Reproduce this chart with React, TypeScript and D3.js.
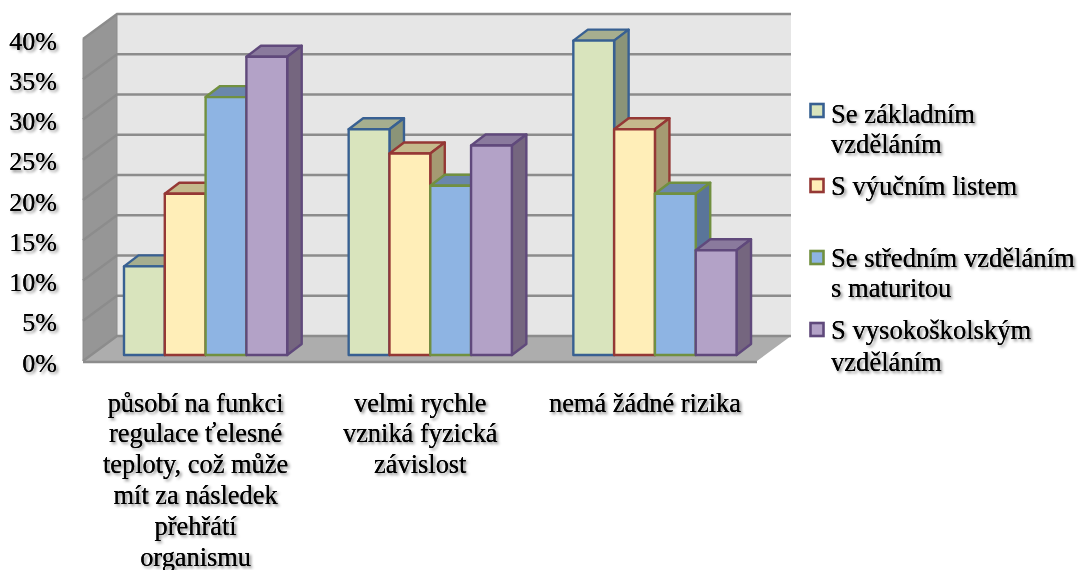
import React from "react";
import * as d3 from "d3";

const categories = ["c1", "c2", "c3"];
const categoryLines = [
  ["působí na funkci", "regulace ťelesné", "teploty, což může", "mít za následek", "přehřátí", "organismu"],
  ["velmi rychle", "vzniká fyzická", "závislost"],
  ["nemá žádné rizika"],
];
const seriesNames = ["s1", "s2", "s3", "s4"];
const valuesS1 = [11, 28, 39];
const valuesS2 = [20, 25, 28];
const valuesS3 = [32, 21, 20];
const valuesS4 = [37, 26, 13];
const seriesValues = [valuesS1, valuesS2, valuesS3, valuesS4];
const ticks = [0, 5, 10, 15, 20, 25, 30, 35, 40];
const fronts = ["#d9e4bd", "#ffeeb8", "#8eb4e3", "#b3a2c7"];
const strokes = ["#386192", "#953735", "#71903f", "#604a7b"];
const sides = ["#8b9478", "#a59a72", "#5a7499", "#75667f"];
const tops = ["#a6ae8f", "#c5b98c", "#6a87ac", "#8a7a9d"];
const legendLines = [
  { i: 0, sw: 111, lines: [["Se základním", 114], ["vzděláním", 144]] },
  { i: 1, sw: 186, lines: [["S výučním listem", 186]] },
  { i: 2, sw: 258, lines: [["Se středním vzděláním", 258], ["s maturitou", 288]] },
  { i: 3, sw: 330, lines: [["S vysokoškolským", 330], ["vzděláním", 362]] },
];

const FONT = "'Liberation Serif', serif";
const wallL = 83, wallR = 757, dx = 34, dy = 25;
const yBack = d3.scaleLinear().domain([0, 40]).range([336, 14]);
const yBar = d3.scaleLinear().domain([0, 40]).range([355, 32.6]);
const x0 = d3.scaleBand<string>().domain(categories).range([wallL, wallR]).paddingInner(0).paddingOuter(0);
const barW = 40.8;
const x1 = (g: number, s: number) => (x0(categories[g]) as number) + 41 + s * barW;
const depthX = 14.5, depthY = 11;
const poly = (p: number[][]) => p.map((q) => q.join(",")).join(" ");

export default function App() {
  return (
    <svg width={1079} height={570} style={{ position: "absolute", left: 0, top: 0, background: "#fff" }}>
      <defs>
        <filter id="sh" x="-10%" y="-10%" width="120%" height="120%">
          <feGaussianBlur in="SourceAlpha" stdDeviation="1.5" result="b" />
          <feOffset in="b" dx="2.2" dy="2.2" result="o" />
          <feFlood floodColor="#000" floodOpacity="0.5" />
          <feComposite in2="o" operator="in" result="s" />
          <feGaussianBlur in="SourceGraphic" stdDeviation="0.3" result="t" />
          <feMerge>
            <feMergeNode in="s" />
            <feMergeNode in="t" />
            <feMergeNode in="t" />
          </feMerge>
        </filter>
        <filter id="soft"><feGaussianBlur stdDeviation="0.5" /></filter>
      </defs>
      <g filter="url(#soft)">
        <rect x={wallL + dx} y={yBack(40)} width={wallR - wallL} height={yBack(0) - yBack(40)} fill="#e6e6e6" />
        <polygon points={poly([[wallL, yBack(40) + dy], [wallL + dx, yBack(40)], [wallL + dx, yBack(0)], [wallL, yBack(0) + dy]])} fill="#969696" stroke="#8c8c8c" />
        <polygon points={poly([[wallL, yBack(0) + dy], [wallL + dx, yBack(0)], [wallR + dx, yBack(0)], [wallR, yBack(0) + dy]])} fill="#adadad" />
        <line x1={wallL} x2={wallR} y1={yBack(0) + dy + 1} y2={yBack(0) + dy + 1} stroke="#8c8c8c" strokeWidth={2.5} />
        {ticks.map((t) => (
          <g key={t} stroke="#8c8c8c" strokeWidth={2.4} fill="none">
            <polyline points={poly([[wallL, yBack(t) + dy], [wallL + dx, yBack(t)], [wallR + dx, yBack(t)]])} />
          </g>
        ))}
        {categories.map((c, g) =>
          seriesNames.map((n, s) => {
            const x = x1(g, s);
            const y = yBar(seriesValues[s][g]);
            const b = yBar(0);
            return (
              <g key={c + n} stroke={strokes[s]} strokeWidth={2.4} strokeLinejoin="round">
                <polygon points={poly([[x, y], [x + depthX, y - depthY], [x + barW + depthX, y - depthY], [x + barW, y]])} fill={tops[s]} />
                <polygon points={poly([[x + barW, y], [x + barW + depthX, y - depthY], [x + barW + depthX, b - depthY], [x + barW, b]])} fill={sides[s]} />
                <rect x={x} y={y} width={barW} height={b - y} fill={fronts[s]} />
              </g>
            );
          })
        )}
        {legendLines.map((l) => (
          <rect key={l.i} x={810.5} y={l.sw - 7} width={13} height={13} fill={fronts[l.i]} stroke={strokes[l.i]} strokeWidth={2.6} />
        ))}
      </g>
      <g fontFamily={FONT} fontSize={26} fill="#000" filter="url(#sh)">
        {ticks.map((t) => (
          <text key={t} x={57} y={yBack(t) + dy + 2} textAnchor="end" dominantBaseline="central">{t}%</text>
        ))}
      </g>
      <g fontFamily={FONT} fontSize={26.6} fill="#000" filter="url(#sh)">
        {legendLines.map((l) =>
          l.lines.map(([txt, y]) => (
            <text key={String(txt) + y} x={831} y={y as number} dominantBaseline="central">{txt}</text>
          ))
        )}
      </g>
      <g fontFamily={FONT} fontSize={26.4} fill="#000" textAnchor="middle" filter="url(#sh)">
        {categoryLines.map((ls, g) =>
          ls.map((txt, i) => (
            <text key={txt} x={(x0(categories[g]) as number) + 112.6} y={402.5 + i * 30.8} dominantBaseline="central">{txt}</text>
          ))
        )}
      </g>
    </svg>
  );
}
